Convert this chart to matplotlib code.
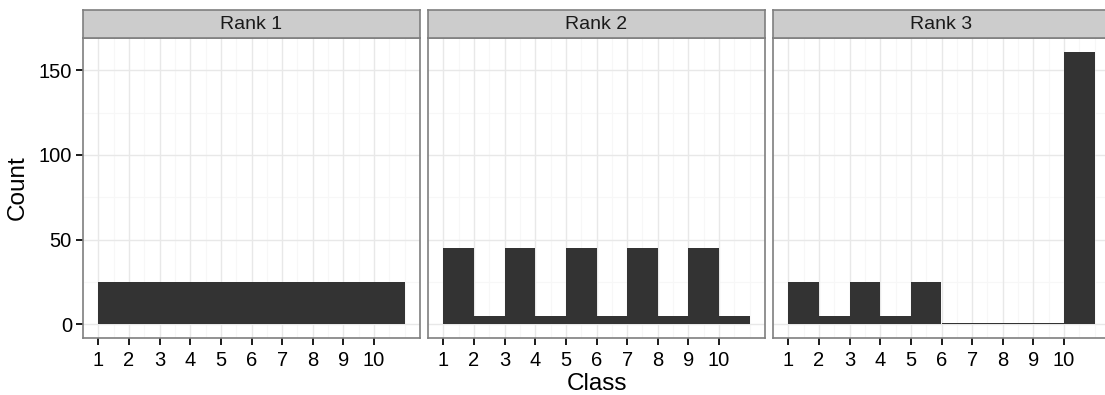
import numpy as np
import matplotlib.pyplot as plt

plt.rcParams['font.family'] = ['Liberation Sans', 'DejaVu Sans']

# histogram counts per class (bins of width 1 starting at each class)
classes = np.arange(1, 11)
ranks = ['Rank 1', 'Rank 2', 'Rank 3']
rank1_counts = [25, 25, 25, 25, 25, 25, 25, 25, 25, 25]
rank2_counts = [45, 5, 45, 5, 45, 5, 45, 5, 45, 5]
rank3_counts = [25, 5, 25, 5, 25, 1, 1, 1, 1, 161]
all_counts = [rank1_counts, rank2_counts, rank3_counts]

y_breaks = [0, 50, 100, 150]

fig = plt.figure(figsize=(11.05, 3.95), dpi=100)
W, H = 1105, 395
lefts = [83, 428, 773]
pw = 337
top, bottom = 38, 338
strip_top = 10

ymax = max(max(c) for c in all_counts)
ylim = (-0.05 * ymax, ymax * 1.05)
xlim = (0.5, 11.5)

for i, (name, counts) in enumerate(zip(ranks, all_counts)):
    ax = fig.add_axes([lefts[i] / W, 1 - bottom / H, pw / W, (bottom - top) / H])
    ax.set_xlim(*xlim)
    ax.set_ylim(*ylim)

    # grid: minor lines first, then major
    for x in np.arange(0.5, 11.01, 0.5):
        if x not in classes:
            ax.axvline(x, color='#F7F7F7', lw=0.8, zorder=0)
    for y in [25, 75, 125]:
        ax.axhline(y, color='#F7F7F7', lw=0.8, zorder=0)
    for x in classes:
        ax.axvline(x, color='#E8E8E8', lw=1.0, zorder=0)
    for y in y_breaks:
        ax.axhline(y, color='#E8E8E8', lw=1.0, zorder=0)

    ax.bar(classes, counts, width=1.0, align='edge', color='#333333', lw=0, zorder=2)

    for s in ax.spines.values():
        s.set_color('#7F7F7F')
        s.set_linewidth(1.2)

    ax.set_xticks(classes)
    ax.set_xticklabels([str(c) for c in classes], fontsize=14.5)
    ax.set_yticks(y_breaks)
    if i == 0:
        ax.set_yticklabels([str(b) for b in y_breaks], fontsize=14.5)
        ax.tick_params(axis='y', length=5, width=1.4, color='#1A1A1A', pad=3)
    else:
        ax.tick_params(axis='y', length=0, labelleft=False)
    ax.tick_params(axis='x', length=5, width=1.4, color='#1A1A1A', pad=4.5)

    # facet strip
    sax = fig.add_axes([lefts[i] / W, 1 - top / H, pw / W, (top - strip_top) / H])
    sax.set_xticks([])
    sax.set_yticks([])
    sax.set_facecolor('#CCCCCC')
    for s in sax.spines.values():
        s.set_color('#7F7F7F')
        s.set_linewidth(1.2)
    sax.text(0.5, 0.47, name, ha='center', va='center', fontsize=14,
             color='#1A1A1A', transform=sax.transAxes)

fig.text(597 / W, 1 - 384 / H, 'Class', ha='center', va='center', fontsize=17.5)
fig.text(18 / W, 1 - 188 / H, 'Count', ha='center', va='center', fontsize=17.5, rotation=90)

fig.savefig('out.png', dpi=100)
